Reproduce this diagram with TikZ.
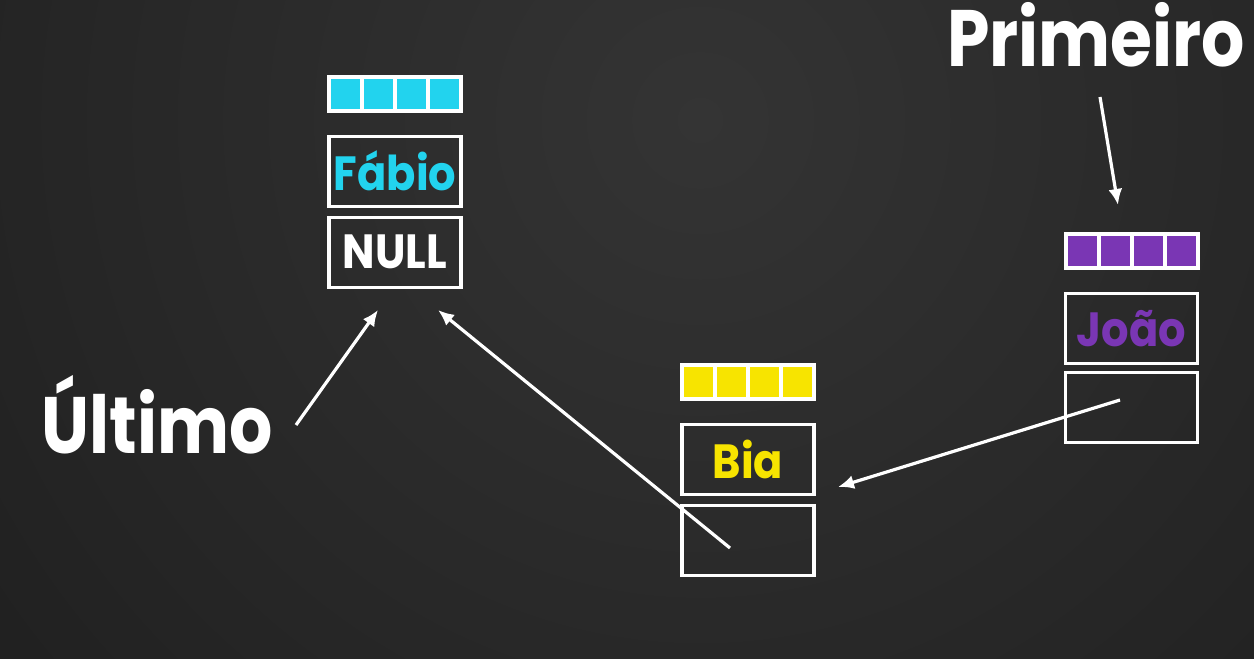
\documentclass[tikz,border=0pt]{standalone}
\usepackage{fontspec}
\setmainfont{Poppins}[FakeStretch=0.9]
\newfontfamily\tagfont{Poppins}[FakeStretch=0.85]
\usetikzlibrary{arrows.meta,positioning,calc}

\definecolor{bgdark}{HTML}{131313}
\definecolor{bglight}{HTML}{343434}
\definecolor{fabiocyan}{HTML}{22D3EE}
\definecolor{biayellow}{HTML}{F7E400}
\definecolor{joaopurple}{HTML}{7A36B4}

\tikzset{
  cell/.style={draw=white, line width=1.6pt, minimum width=66pt, minimum height=35pt,
    inner sep=0pt, font=\bfseries\fontsize{24}{28}\selectfont},
  bar/.style={draw=white, fill=#1, line width=2pt, minimum width=66pt, minimum height=17pt, inner sep=0pt,
    path picture={\foreach \i in {1,2,3}
      \draw[white, line width=2pt]
        ($(path picture bounding box.south west)!\i/4!(path picture bounding box.south east)$) --
        ($(path picture bounding box.north west)!\i/4!(path picture bounding box.north east)$);}},
  ptr/.style={white, line width=1.6pt, -{Latex[length=8pt,width=7pt]}},
  tag/.style={white, anchor=base, inner sep=0pt, font=\tagfont\bfseries\fontsize{40}{48}\selectfont}
}

\begin{document}
\begin{tikzpicture}[x=0.5pt, y=-0.5pt, node distance=11pt]
  \useasboundingbox (0,0) rectangle (1254,659);
  \begin{scope}
    \clip (0,0) rectangle (1254,659);
    \fill[bgdark] (0,0) rectangle (1254,659);
    \shade[inner color=bglight, outer color=bgdark] (700,120) circle (1500);
  \end{scope}

  % Fabio (ultimo)
  \node[bar=fabiocyan] (fabioBar) at (395, 93.5) {};
  \node[cell, text=fabiocyan, below=of fabioBar] (fabioName) {Fábio};
  \node[cell, text=white, below=4pt of fabioName] (fabioNext) {NULL};

  % Bia
  \node[bar=biayellow] (biaBar) at (748, 381.5) {};
  \node[cell, text=biayellow, below=of biaBar] (biaName) {Bia};
  \node[cell, below=4pt of biaName] (biaNext) {};

  % Joao (primeiro)
  \node[bar=joaopurple] (joaoBar) at (1131.5, 251) {};
  \node[cell, text=joaopurple, below=of joaoBar] (joaoName) {João};
  \node[cell, below=3pt of joaoName] (joaoNext) {};

  % labels
  \node[tag] (primeiro) at (1096, 66) {Primeiro};
  \node[tag] (ultimo) at (157, 453) {Último};

  \coordinate (primeiroTail) at (1100, 97);
  \coordinate (joaoIn) at (1118, 205);
  \coordinate (ultimoTail) at (296, 425);
  \coordinate (fabioInLeft) at (378, 310);
  \coordinate (biaTail) at (730, 548);
  \coordinate (fabioInRight) at (438, 310);
  \coordinate (joaoTail) at (1120, 400);
  \coordinate (biaIn) at (838, 487);

  \draw[ptr] (primeiroTail) -- (joaoIn);
  \draw[ptr] (ultimoTail) -- (fabioInLeft);
  \draw[ptr] (biaTail) -- (fabioInRight);
  \draw[ptr] (joaoTail) -- (biaIn);
\end{tikzpicture}
\end{document}
